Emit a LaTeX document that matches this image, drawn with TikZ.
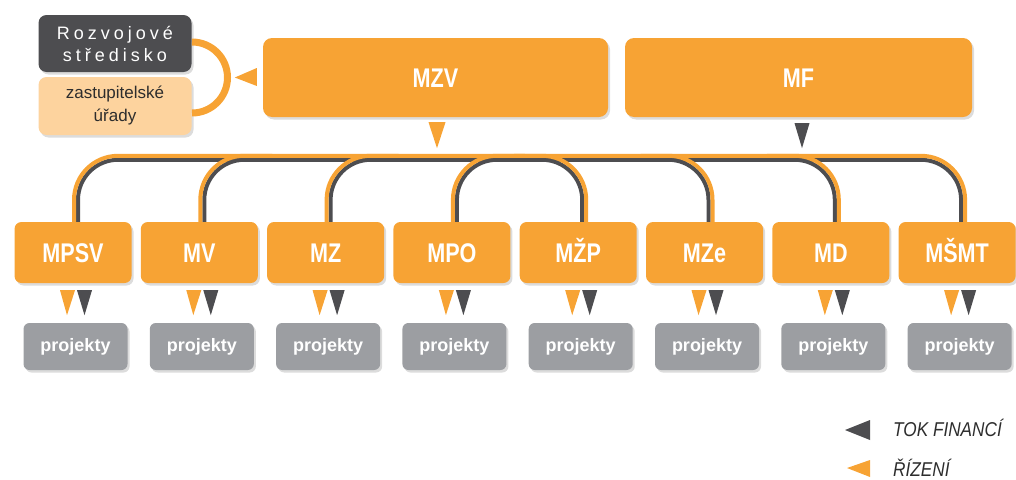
\documentclass[tikz,border=0pt]{standalone}
\usepackage{fontspec}
\setmainfont{Liberation Sans}
\newfontfamily\condfont[FakeStretch=0.8]{Liberation Sans}
\newfontfamily\legfont[FakeStretch=0.86]{Liberation Sans}
\usetikzlibrary{shadows,calc}
\pgfdeclarelayer{bg}
\pgfsetlayers{bg,main}
\definecolor{org}{RGB}{247,163,52}
\definecolor{dgray}{RGB}{77,77,80}
\definecolor{pgray}{RGB}{156,158,162}
\definecolor{lorg}{RGB}{253,211,158}
\definecolor{ztext}{RGB}{45,45,45}
\newcommand{\lsp}{\hspace{4pt}}
\begin{document}
\begin{tikzpicture}[x=1pt,y=-1pt,
  shad/.style={drop shadow={opacity=0.28,shadow xshift=2pt,shadow yshift=-2.5pt}},
  bigbox/.style={fill=org,rounded corners=9pt,shad,text=white,inner sep=0pt,
    text height=19.5pt,text depth=0pt,
    font=\condfont\bfseries\fontsize{27}{29}\selectfont},
  minbox/.style={bigbox,minimum width=117pt,minimum height=61pt,rounded corners=7pt},
  projbox/.style={fill=pgray,rounded corners=6pt,shad,minimum width=104pt,minimum height=47pt,
    text=white,inner sep=0pt,font=\bfseries\fontsize{18}{20}\selectfont},
  obar/.style={draw=org,line width=4pt,rounded corners=44pt},
  gbar/.style={draw=dgray,line width=4pt,rounded corners=40pt},
  legtext/.style={font=\legfont\itshape\fontsize{20}{22}\selectfont,text=ztext,anchor=west,inner sep=0pt}
]
\useasboundingbox (0,0) rectangle (1016,479);

% top row
\node[fill=dgray,rounded corners=8pt,shad,minimum width=153pt,minimum height=57pt,
  align=center,text=white,inner sep=0pt,font=\fontsize{18}{22}\selectfont] (rs) at (115,43.5)
  {R\lsp o\lsp z\lsp v\lsp o\lsp j\lsp o\lsp v\lsp é\\s\lsp t\lsp ř\lsp e\lsp d\lsp i\lsp s\lsp k\lsp o};
\node[fill=lorg,rounded corners=8pt,shad,minimum width=153pt,minimum height=58pt,
  align=center,text=ztext,inner sep=0pt,font=\fontsize{17}{23}\selectfont] (zu) at (115,106)
  {zastupitelské\\úřady};
\node[bigbox,minimum width=345pt,minimum height=79pt] (mzv) at (435.5,77.5) {MZV};
\node[bigbox,minimum width=347pt,minimum height=79pt] (mf) at (798.5,77.5) {MF};

% bracket and arrow to the left
\draw[org,line width=7pt] (192,42) arc[start angle=90,end angle=-90,radius=35.5pt];
\fill[org] ($(mzv.west)+(-28,0)$) -- ($(mzv.west)+(-6,-9.5)$) -- ($(mzv.west)+(-6,8.5)$) -- cycle;

% arrows from MZV and MF
\fill[org] ($(mzv.south)+(-7,5)$) -- ($(mzv.south)+(10,5)$) -- ($(mzv.south)+(1.5,31)$) -- cycle;
\fill[dgray] ($(mf.south)+(-4,6)$) -- ($(mf.south)+(11,6)$) -- ($(mf.south)+(3.5,31)$) -- cycle;

% ministries and projects
\foreach \nm [count=\i] in {MPSV,MV,MZ,MPO,MŽP,MZe,MD,MŠMT} {
  \node[minbox] (m\i) at ({73+126.3*(\i-1)},252.5) {\nm};
  \node[projbox] (p\i) at ({75.5+126.3*(\i-1)},346.5) {projekty};
  \fill[org] ($(m\i.south)+(-13,7)$) -- ($(m\i.south)+(2,7)$) -- ($(m\i.south)+(-6,32)$) -- cycle;
  \fill[dgray] ($(m\i.south)+(4,7)$) -- ($(m\i.south)+(19,7)$) -- ($(m\i.south)+(11.5,32)$) -- cycle;
}

% connectors (behind boxes)
\begin{pgfonlayer}{bg}
  \draw[gbar] ($(m1.north)+(5,0)$) -- ($(m1.north)+(5,-62)$) -- ($(m8.north)+(4,-62)$) -- ($(m8.north)+(4,0)$);
  \foreach \i in {2,3,4} {
    \draw[gbar] ($(m\i.north)+(5,0)$) -- ($(m\i.north)+(5,-62)$) -- ($(m\i.north)+(73,-62)$);
  }
  \foreach \i in {5,6,7} {
    \draw[gbar] ($(m\i.north)+(-64,-62)$) -- ($(m\i.north)+(4,-62)$) -- ($(m\i.north)+(4,0)$);
  }
  \draw[obar] ($(m1.north)+(1,0)$) -- ($(m1.north)+(1,-66)$) -- ($(m8.north)+(8,-66)$) -- ($(m8.north)+(8,0)$);
  \foreach \i in {2,3,4} {
    \draw[obar] ($(m\i.north)+(1,0)$) -- ($(m\i.north)+(1,-66)$) -- ($(m\i.north)+(73,-66)$);
  }
  \foreach \i in {5,6,7} {
    \draw[obar] ($(m\i.north)+(-64,-66)$) -- ($(m\i.north)+(8,-66)$) -- ($(m\i.north)+(8,0)$);
  }
\end{pgfonlayer}

% legend
\node[legtext] (lf) at (893,428) {TOK FINANCÍ};
\node[legtext] (lr) at (893,468) {ŘÍZENÍ};
\fill[dgray] ($(lf.west)+(-48,2)$) -- ($(lf.west)+(-23,-8)$) -- ($(lf.west)+(-23,12)$) -- cycle;
\fill[org] ($(lr.west)+(-46,0)$) -- ($(lr.west)+(-23,-8)$) -- ($(lr.west)+(-23,9)$) -- cycle;
\end{tikzpicture}
\end{document}
